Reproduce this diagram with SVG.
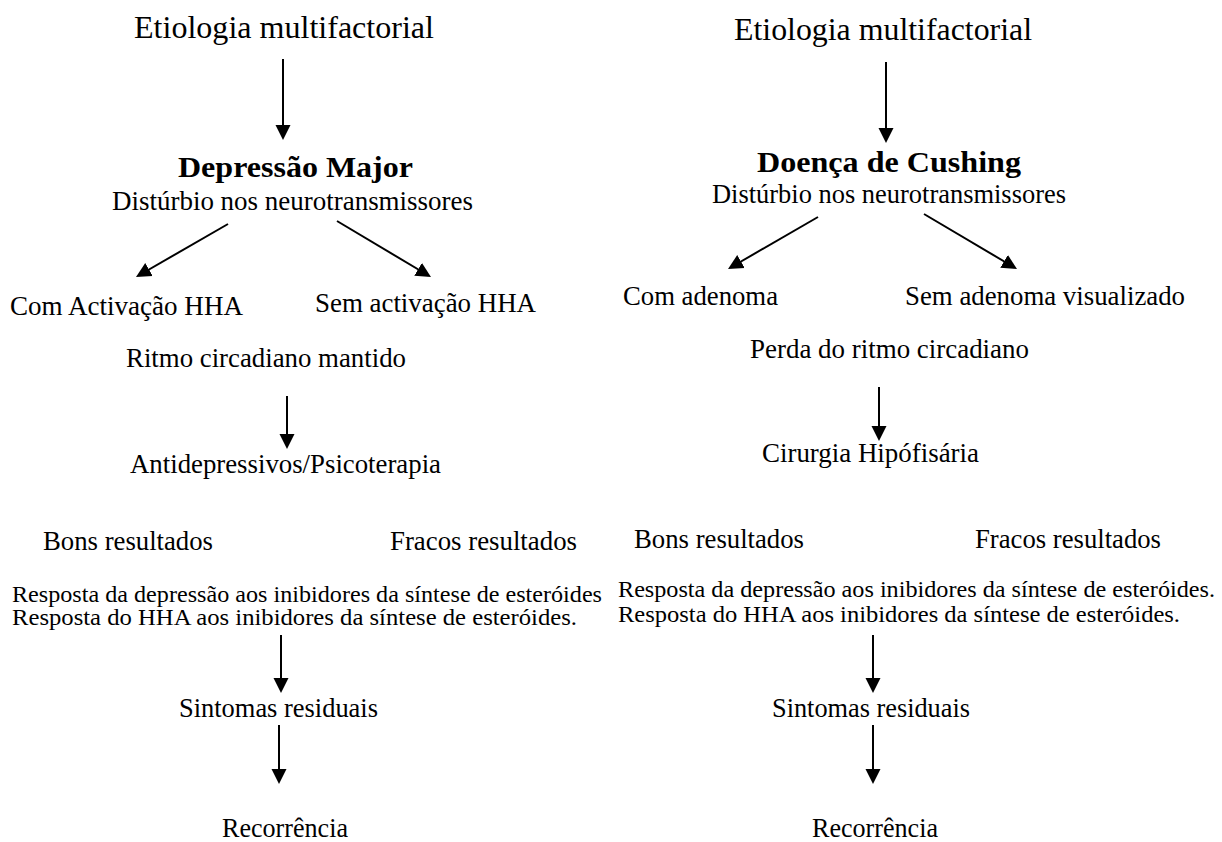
<svg xmlns="http://www.w3.org/2000/svg" width="1222" height="842" viewBox="0 0 1222 842">
<style>
text{font-family:"Liberation Serif","Times New Roman",serif;fill:#000}
.t{font-size:27px}
.big{font-size:31px}
.b{font-size:30px;font-weight:bold}
.s{font-size:24px}
.c line{stroke:#000;stroke-width:2;marker-end:url(#ah)}
</style>
<defs>
<marker id="ah" viewBox="0 0 10 10" refX="8" refY="5" markerUnits="userSpaceOnUse" markerWidth="15" markerHeight="16" orient="auto">
<path d="M0,0 L10,5 L0,10 z" fill="#000"/>
</marker>
</defs>
<rect width="1222" height="842" fill="#fff"/>
<g id="left">
<g id="l-etio"><text class="big" x="134" y="38" textLength="300" lengthAdjust="spacingAndGlyphs">Etiologia multifactorial</text></g>
<g id="l-dep"><text class="b" x="178" y="177" textLength="235" lengthAdjust="spacingAndGlyphs">Depressão Major</text></g>
<g id="l-dist"><text class="t" x="112" y="210" textLength="361" lengthAdjust="spacingAndGlyphs">Distúrbio nos neurotransmissores</text></g>
<g id="l-com"><text class="t" x="10" y="315" textLength="233" lengthAdjust="spacingAndGlyphs">Com Activação HHA</text></g>
<g id="l-sem"><text class="t" x="315" y="312" textLength="221" lengthAdjust="spacingAndGlyphs">Sem activação HHA</text></g>
<g id="l-ritmo"><text class="t" x="126" y="367" textLength="280" lengthAdjust="spacingAndGlyphs">Ritmo circadiano mantido</text></g>
<g id="l-anti"><text class="t" x="130" y="473" textLength="311" lengthAdjust="spacingAndGlyphs">Antidepressivos/Psicoterapia</text></g>
<g id="l-bons"><text class="t" x="43" y="550" textLength="170" lengthAdjust="spacingAndGlyphs">Bons resultados</text></g>
<g id="l-fracos"><text class="t" x="390" y="550" textLength="187" lengthAdjust="spacingAndGlyphs">Fracos resultados</text></g>
<g id="l-resp"><text class="s" x="12" y="602" textLength="590" lengthAdjust="spacingAndGlyphs">Resposta da depressão aos inibidores da síntese de esteróides</text>
<text class="s" x="12" y="625" textLength="565" lengthAdjust="spacingAndGlyphs">Resposta do HHA aos inibidores da síntese de esteróides.</text></g>
<g id="l-sint"><text class="t" x="179" y="717" textLength="199" lengthAdjust="spacingAndGlyphs">Sintomas residuais</text></g>
<g id="l-rec"><text class="t" x="222" y="837" textLength="126" lengthAdjust="spacingAndGlyphs">Recorrência</text></g>
</g>
<g id="right">
<g id="r-etio"><text class="big" x="734" y="40" textLength="298" lengthAdjust="spacingAndGlyphs">Etiologia multifactorial</text></g>
<g id="r-cush"><text class="b" x="757" y="172" textLength="264" lengthAdjust="spacingAndGlyphs">Doença de Cushing</text></g>
<g id="r-dist"><text class="t" x="712" y="203" textLength="354" lengthAdjust="spacingAndGlyphs">Distúrbio nos neurotransmissores</text></g>
<g id="r-com"><text class="t" x="623" y="305" textLength="155" lengthAdjust="spacingAndGlyphs">Com adenoma</text></g>
<g id="r-sem"><text class="t" x="905" y="305" textLength="280" lengthAdjust="spacingAndGlyphs">Sem adenoma visualizado</text></g>
<g id="r-perda"><text class="t" x="750" y="358" textLength="279" lengthAdjust="spacingAndGlyphs">Perda do ritmo circadiano</text></g>
<g id="r-cir"><text class="t" x="762" y="462" textLength="217" lengthAdjust="spacingAndGlyphs">Cirurgia Hipófisária</text></g>
<g id="r-bons"><text class="t" x="634" y="548" textLength="170" lengthAdjust="spacingAndGlyphs">Bons resultados</text></g>
<g id="r-fracos"><text class="t" x="975" y="548" textLength="186" lengthAdjust="spacingAndGlyphs">Fracos resultados</text></g>
<g id="r-resp"><text class="s" x="618" y="597" textLength="597" lengthAdjust="spacingAndGlyphs">Resposta da depressão aos inibidores da síntese de esteróides.</text>
<text class="s" x="618" y="622" textLength="562" lengthAdjust="spacingAndGlyphs">Resposta do HHA aos inibidores da síntese de esteróides.</text></g>
<g id="r-sint"><text class="t" x="772" y="717" textLength="198" lengthAdjust="spacingAndGlyphs">Sintomas residuais</text></g>
<g id="r-rec"><text class="t" x="812" y="837" textLength="126" lengthAdjust="spacingAndGlyphs">Recorrência</text></g>
</g>
<g id="connectors" class="c">
<line x1="283" y1="59" x2="283" y2="137"/>
<line x1="228" y1="224" x2="138.6" y2="275.5"/>
<line x1="337" y1="221" x2="428.4" y2="275.5"/>
<line x1="287" y1="396" x2="287" y2="446"/>
<line x1="281" y1="635" x2="281" y2="690"/>
<line x1="279" y1="725" x2="279" y2="781"/>
<line x1="886" y1="62" x2="886" y2="140"/>
<line x1="818" y1="217" x2="730.6" y2="267.5"/>
<line x1="924" y1="214" x2="1014.4" y2="267.5"/>
<line x1="879" y1="387" x2="879" y2="438"/>
<line x1="873" y1="635" x2="873" y2="690"/>
<line x1="873" y1="725" x2="873" y2="781"/>
</g>
</svg>
